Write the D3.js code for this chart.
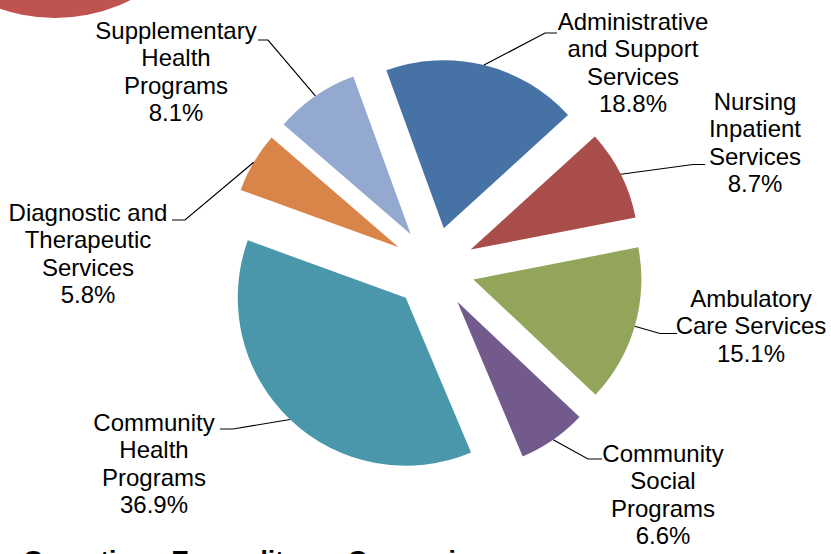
<!DOCTYPE html>
<html><head><meta charset="utf-8">
<script src="https://cdn.jsdelivr.net/npm/d3@7"></script>
<style>html,body{margin:0;padding:0;background:#fff;overflow:hidden}</style>
</head><body>
<svg id="chart" width="831" height="554"></svg>
<script>
// ---- data ----
const categories = ["Administrative and Support Services","Nursing Inpatient Services","Ambulatory Care Services","Community Social Programs","Community Health Programs","Diagnostic and Therapeutic Services","Supplementary Health Programs"];
const labelLines = [["Administrative","and Support","Services"],["Nursing","Inpatient","Services"],["Ambulatory","Care Services"],["Community","Social","Programs"],["Community","Health","Programs"],["Diagnostic and","Therapeutic","Services"],["Supplementary","Health","Programs"]];
const values = [18.8, 8.7, 15.1, 6.6, 36.9, 5.8, 8.1];
const colors = ["#4672A5","#A84D4A","#92A55A","#725A8D","#4A96AA","#D9854A","#94A9CF"];
const title = "Operations Expenditures Comparison";

// ---- layout ----
const cx = 434, cy = 268, R = 168, explode = 41;
const firstAngle = -20 * Math.PI / 180;
const labelPos = [
  {x:633, y:30,  stub:[[557,33],[545,33]]},
  {x:755, y:110, stub:[[705,164.5],[693,164.5]]},
  {x:751, y:307, stub:[[677,333.5],[660,333.5]]},
  {x:663, y:462, stub:[[602,459],[588,459]]},
  {x:154, y:431, stub:[[220,429],[233,429]]},
  {x:88,  y:221, stub:[[172,220],[185,220]]},
  {x:176, y:39,  stub:[[258,40],[268,40]]}
];
const lineH = 27.4;

const svg = d3.select("#chart");

// decorative partial red circle in the top-left corner
svg.append("circle").attr("cx", 55).attr("cy", -150).attr("r", 168).attr("fill", "#BE5350");

const pie = d3.pie().sort(null).value(d => d)
  .startAngle(firstAngle).endAngle(firstAngle + 2 * Math.PI);
const arcs = pie(values);
const arc = d3.arc().innerRadius(0).outerRadius(R);

const g = svg.append("g").attr("transform", `translate(${cx},${cy})`);

arcs.forEach((a, i) => {
  const mid = (a.startAngle + a.endAngle) / 2;
  const ox = Math.sin(mid) * explode, oy = -Math.cos(mid) * explode;
  g.append("path")
    .attr("d", arc(a))
    .attr("transform", `translate(${ox},${oy})`)
    .attr("fill", colors[i]);
  // leader line to middle of outer arc
  const ex = cx + ox + Math.sin(mid) * R, ey = cy + oy - Math.cos(mid) * R;
  const lp = labelPos[i];
  const pts = [lp.stub[0], lp.stub[1], [ex, ey]];
  svg.append("path")
    .attr("d", d3.line()(pts))
    .attr("fill", "none").attr("stroke", "#000").attr("stroke-width", 1.2);
  // label
  const t = svg.append("text")
    .attr("x", lp.x).attr("y", lp.y)
    .attr("text-anchor", "middle")
    .attr("font-family", "'Liberation Sans', Arial, sans-serif")
    .attr("font-size", 24).attr("fill", "#000");
  const lines = labelLines[i].concat([values[i].toFixed(1) + "%"]);
  lines.forEach((s, k) => {
    t.append("tspan").attr("x", lp.x).attr("y", lp.y + k * lineH).text(s);
  });
});

svg.append("text")
  .attr("x", 23).attr("y", 569)
  .attr("font-family", "'Liberation Sans', Arial, sans-serif")
  .attr("font-weight", "bold").attr("font-size", 26.7).attr("fill", "#000")
  .text(title);
</script>
</body></html>
